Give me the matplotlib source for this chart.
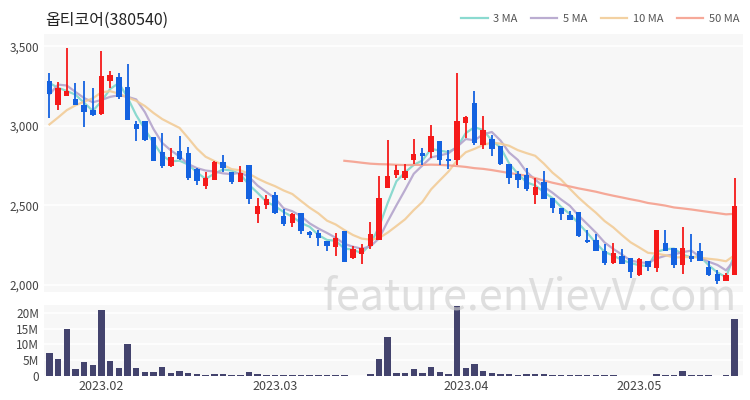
import numpy as np
import pandas as pd
import matplotlib.pyplot as plt
from matplotlib.ticker import FuncFormatter

plt.rcParams['font.family'] = ['Noto Sans CJK KR', 'DejaVu Sans']

# trading days shown (KRX holidays removed)
holidays = ['2023-01-23', '2023-01-24', '2023-03-01', '2023-05-01', '2023-05-05']
dates = pd.bdate_range('2023-01-20', '2023-05-18')
dates = dates[~dates.isin(pd.to_datetime(holidays))]

opens = [3280, 3134, 3186, 3171, 3134, 3102, 3075, 3280, 3305, 3242,
         3012, 3033, 2928, 2836, 2746, 2840, 2830, 2729, 2620, 2662,
         2773, 2711, 2648, 2752, 2443, 2505, 2564, 2432, 2390, 2449,
         2332, 2327, 2275, 2237, 2338, 2166, 2195, 2244, 2285, 2610,
         2690, 2669, 2788, 2830, 2836, 2907, 2794, 2788, 3016, 3144,
         2882, 2920, 2872, 2761, 2698, 2694, 2564, 2648, 2547, 2484,
         2438, 2459, 2285, 2285, 2212, 2139, 2181, 2166, 2061, 2149,
         2103, 2265, 2233, 2124, 2181, 2212, 2112, 2066, 2024, 2061]
highs = [3333, 3276, 3490, 3270, 3284, 3238, 3473, 3343, 3333, 3389,
         3029, 3033, 2928, 2956, 2861, 2935, 2866, 2736, 2711, 2782,
         2815, 2711, 2746, 2752, 2547, 2568, 2585, 2474, 2453, 2449,
         2338, 2348, 2275, 2327, 2338, 2244, 2258, 2396, 2683, 2914,
         2752, 2761, 2920, 2861, 3004, 2907, 2851, 3332, 3060, 3217,
         3060, 2941, 2872, 2761, 2715, 2736, 2673, 2719, 2547, 2484,
         2463, 2459, 2348, 2317, 2258, 2265, 2223, 2166, 2166, 2149,
         2348, 2348, 2233, 2363, 2317, 2265, 2149, 2091, 2076, 2673]
lows = [3050, 3102, 3186, 3129, 2993, 3060, 3067, 3238, 3171, 3039,
        2907, 2907, 2782, 2736, 2740, 2788, 2662, 2631, 2606, 2662,
        2711, 2635, 2648, 2510, 2390, 2480, 2447, 2369, 2363, 2321,
        2296, 2244, 2212, 2181, 2145, 2160, 2133, 2223, 2279, 2610,
        2673, 2662, 2761, 2757, 2799, 2752, 2731, 2757, 2921, 2878,
        2857, 2809, 2757, 2635, 2610, 2593, 2510, 2537, 2453, 2405,
        2405, 2300, 2265, 2212, 2124, 2133, 2128, 2045, 2055, 2087,
        2082, 2212, 2107, 2070, 2145, 2149, 2055, 2007, 2024, 2061]
closes = [3200, 3238, 3221, 3129, 3087, 3067, 3312, 3318, 3180, 3039,
          2983, 2914, 2782, 2746, 2803, 2794, 2673, 2656, 2669, 2773,
          2736, 2648, 2704, 2537, 2495, 2537, 2453, 2384, 2447, 2338,
          2311, 2292, 2244, 2296, 2145, 2223, 2229, 2317, 2547, 2683,
          2725, 2715, 2824, 2809, 2935, 2788, 2782, 3029, 3053, 2893,
          2976, 2857, 2761, 2673, 2662, 2600, 2614, 2537, 2484, 2447,
          2405, 2306, 2271, 2212, 2139, 2202, 2128, 2082, 2160, 2112,
          2348, 2212, 2124, 2233, 2160, 2149, 2061, 2024, 2061, 2495]
# closes before the visible window (only used for the moving averages)
prior_closes = [2500, 2560, 2620, 2700, 2750, 2850, 2800, 2760, 2830, 2850,
                2862, 2930, 3250, 3330, 3280]
volumes_m = [7.2, 5.5, 15.0, 2.1, 4.4, 3.5, 21.1, 4.7, 2.5, 10.2,
             2.6, 1.2, 1.2, 2.8, 0.8, 1.7, 0.8, 0.6, 0.4, 0.6,
             0.5, 0.4, 0.4, 1.2, 0.7, 0.3, 0.3, 0.4, 0.3, 0.4,
             0.2, 0.2, 0.2, 0.3, 0.2, 0.1, 0.1, 0.5, 5.5, 12.5,
             1.1, 0.8, 2.3, 1.1, 2.7, 1.2, 0.6, 22.2, 2.4, 3.8,
             1.5, 0.8, 0.5, 0.5, 0.4, 0.5, 0.5, 0.5, 0.3, 0.2,
             0.3, 0.3, 0.2, 0.2, 0.2, 0.2, 0.1, 0.1, 0.1, 0.1,
             0.5, 0.2, 0.2, 1.7, 0.4, 0.2, 0.2, 0.1, 0.2, 18.0]

ma_windows = [3, 5, 10, 50]
ma_colors = ['#7fd6cb', '#b4a4cc', '#f2cc98', '#f5a08e']

up_color = '#f51a1a'
down_color = '#1462e0'

df = pd.DataFrame({'open': opens, 'high': highs, 'low': lows,
                   'close': closes, 'volume': np.array(volumes_m) * 1e6},
                  index=dates)
x = np.arange(len(df))

all_close = pd.Series(prior_closes + closes)
n_prior = len(prior_closes)

fig = plt.figure(figsize=(7.5, 4), dpi=100)
ax = fig.add_axes([0.059, 0.27, 0.931, 0.645])
axv = fig.add_axes([0.059, 0.06, 0.931, 0.178], sharex=ax)

bg = '#f7f7f7'
for a in (ax, axv):
    a.set_facecolor(bg)
    for s in a.spines.values():
        s.set_visible(False)
    a.grid(axis='y', color='white', linewidth=1.2)
    a.set_axisbelow(True)
    a.tick_params(length=0, labelsize=8.5, colors='#444444')

# moving averages
for w, c in zip(ma_windows, ma_colors):
    ma = all_close.rolling(w).mean().iloc[n_prior:].values
    ax.plot(x, ma, color=c, linewidth=1.6, alpha=0.9, zorder=2,
            label=f'{w} MA')

# candles
for i, (o, h, l, c) in enumerate(zip(opens, highs, lows, closes)):
    col = up_color if c >= o else down_color
    ax.vlines(x[i], l, h, color=col, linewidth=1.3, zorder=3)
    ax.bar(x[i], abs(c - o) if c != o else 4, bottom=min(o, c), width=0.62,
           color=col, zorder=4, linewidth=0)

ax.set_ylim(1955, 3578)
ax.set_yticks([2000, 2500, 3000, 3500])
ax.yaxis.set_major_formatter(FuncFormatter(lambda v, p: f'{int(v):,}'))
ax.tick_params(axis='x', labelbottom=False)

# volume
axv.bar(x, df['volume'], width=0.75, color='#43436d', zorder=3)
axv.set_ylim(0, 22.6e6)
axv.set_yticks([0, 5e6, 10e6, 15e6, 20e6])
axv.yaxis.set_major_formatter(
    FuncFormatter(lambda v, p: '0' if v == 0 else f'{int(v / 1e6)}M'))

month_first = [i for i in range(1, len(dates)) if dates[i].month != dates[i - 1].month]
axv.set_xticks(month_first)
axv.set_xticklabels([dates[i].strftime('%Y.%m') for i in month_first])
axv.tick_params(axis='x', labelsize=9, pad=3)
axv.set_xlim(-0.6, 79.9)

fig.text(0.06, 0.948, '옵티코어(380540)', fontsize=11.5, color='#222222',
         va='center')
leg = ax.legend(loc='lower right', bbox_to_anchor=(1.01, 1.0), ncol=4,
                frameon=False, fontsize=8, handlelength=2.4,
                columnspacing=1.2, handletextpad=0.5)
for t in leg.get_texts():
    t.set_color('#555555')

fig.text(0.982, 0.255, 'feature.enVievV.com', fontsize=31, color='#cfcfcf',
         alpha=0.65, ha='right', va='center', zorder=10)

fig.savefig('out.png', dpi=100)
